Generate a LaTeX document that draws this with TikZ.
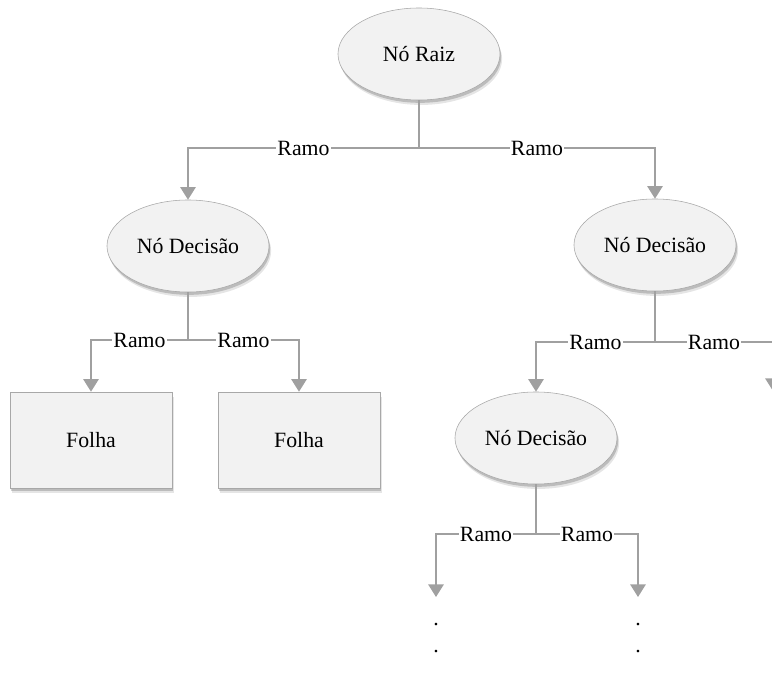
\documentclass[tikz,border=0pt]{standalone}
\usepackage{fontspec}
\setmainfont{Liberation Serif}
\usetikzlibrary{shapes.geometric,shadows,arrows.meta}
\definecolor{nofill}{HTML}{F2F2F2}
\definecolor{nodraw}{HTML}{A8A8A8}
\definecolor{ramo}{HTML}{A0A0A0}

\begin{document}
\begin{tikzpicture}[x=0.025cm,y=-0.025cm,font=\fontsize{15.5}{18}\selectfont,
  sombra/.style={drop shadow={shadow xshift=1.5pt,shadow yshift=-3.5pt,fill=black,opacity=.1},
    drop shadow={shadow xshift=.8pt,shadow yshift=-2pt,fill=black,opacity=.18}},
  no/.style={ellipse,draw=nodraw,fill=nofill,minimum width=4.05cm,minimum height=2.3cm,inner sep=0pt,sombra},
  folha/.style={rectangle,draw=nodraw,fill=nofill,minimum width=4.05cm,minimum height=2.4cm,sombra},
  liga/.style={draw=ramo,line width=1.1pt},
  seta/.style={liga,-{Triangle[length=9pt,width=11pt]}},
  rotulo/.style={fill=white,inner sep=1pt}]
\clip (0,0) rectangle (772,678);
% nos
\node[no] (raiz) at (419,54) {Nó Raiz};
\node[no] (d1) at (188,246) {Nó Decisão};
\node[no] (d2) at (655,245) {Nó Decisão};
\node[no] (d3) at (536,438) {Nó Decisão};
\node[folha] (f1) at (91,440) {Folha};
\node[folha] (f2) at (299,440) {Folha};
\coordinate (d4) at (773,391);
\coordinate (c1) at (436,597);
\coordinate (c2) at (638,597);
% juncoes
\coordinate (j0) at (419,148);
\coordinate (j1) at (188,340);
\coordinate (j2) at (655,342);
\coordinate (j3) at (536,534);
% ramos
\draw[liga] (raiz) -- (j0);
\draw[seta] (j0) -| node[rotulo,pos=.25] {Ramo} (d1);
\draw[seta] (j0) -| node[rotulo,pos=.25] {Ramo} (d2);
\draw[liga] (d1) -- (j1);
\draw[seta] (j1) -| node[rotulo,pos=.25] {Ramo} (f1);
\draw[seta] (j1) -| node[rotulo,pos=.25] {Ramo} (f2);
\draw[liga] (d2) -- (j2);
\draw[seta] (j2) -| node[rotulo,pos=.25] {Ramo} (d3);
\draw[seta] (j2) -| node[rotulo,pos=.25] {Ramo} (d4);
\draw[liga] (d3) -- (j3);
\draw[seta] (j3) -| node[rotulo,pos=.25] {Ramo} (c1);
\draw[seta] (j3) -| node[rotulo,pos=.25] {Ramo} (c2);
% continua
\node (p1) at (436,625) {.};
\node (p2) at (436,652) {.};
\node (p3) at (638,625) {.};
\node (p4) at (638,652) {.};
\end{tikzpicture}
\end{document}
